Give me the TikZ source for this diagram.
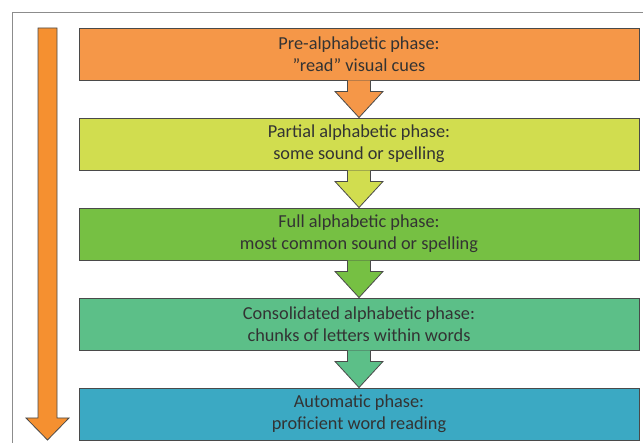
\documentclass[tikz,border=0pt]{standalone}
\usepackage{fontspec}
\setmainfont{Carlito}
\usetikzlibrary{calc}
\definecolor{cOne}{HTML}{F59748}
\definecolor{cTwo}{HTML}{D1DD4F}
\definecolor{cThree}{HTML}{76C043}
\definecolor{cFour}{HTML}{5CBF88}
\definecolor{cFive}{HTML}{3BA9C3}
\definecolor{cSide}{HTML}{F59030}
\definecolor{txt}{HTML}{333333}
\definecolor{edge}{HTML}{4A4A4A}
\begin{document}
\begin{tikzpicture}[x=1pt,y=-1pt,
  phase/.style={draw=edge,line width=0.9pt,minimum width=560pt,minimum height=52pt,
    align=center,text=txt,font=\fontsize{18.3}{22}\selectfont,inner sep=0pt},
  flowarrow/.style={draw=edge,line width=0.8pt}]
\useasboundingbox (0,0) rectangle (643,443);
\fill[white] (0,0) rectangle (643,443);
\draw[black!45,line width=1pt] (12,13) -- (660,13) (12,13) -- (12,460);
% side arrow
\coordinate (st) at (47.5,28);
\coordinate (stip) at (47.5,440);
\filldraw[fill=cSide,draw=edge,line width=0.8pt]
  ($(st)+(-9.5,0)$) -- ($(st)+(9.5,0)$) -- ($(stip)+(9.5,-22)$) -- ($(stip)+(21.5,-22)$)
  -- (stip) -- ($(stip)+(-21.5,-22)$) -- ($(stip)+(-9.5,-22)$) -- cycle;
% boxes
\node[phase,fill=cOne]   (b1) at (359,54)  {Pre-alphabetic phase:\\\symbol{34}read\symbol{34} visual cues};
\node[phase,fill=cTwo]   (b2) at (359,144) {Partial alphabetic phase:\\some sound or spelling};
\node[phase,fill=cThree] (b3) at (359,234) {Full alphabetic phase:\\most common sound or spelling};
\node[phase,fill=cFour]  (b4) at (359,324) {Consolidated alphabetic phase:\\chunks of letters within words};
\node[phase,fill=cFive]  (b5) at (359,414) {Automatic phase:\\proficient word reading};
% connectors
\foreach \a/\b/\c in {b1/b2/cOne,b2/b3/cTwo,b3/b4/cThree,b4/b5/cFour}{
  \filldraw[flowarrow,fill=\c]
    ($(\a.south)+(-11.5,0)$) -- ($(\a.south)+(-11.5,11)$) -- ($(\a.south)+(-24,11)$)
    -- (\b.north) -- ($(\a.south)+(24,11)$) -- ($(\a.south)+(11.5,11)$)
    -- ($(\a.south)+(11.5,0)$);
}
\end{tikzpicture}
\end{document}
